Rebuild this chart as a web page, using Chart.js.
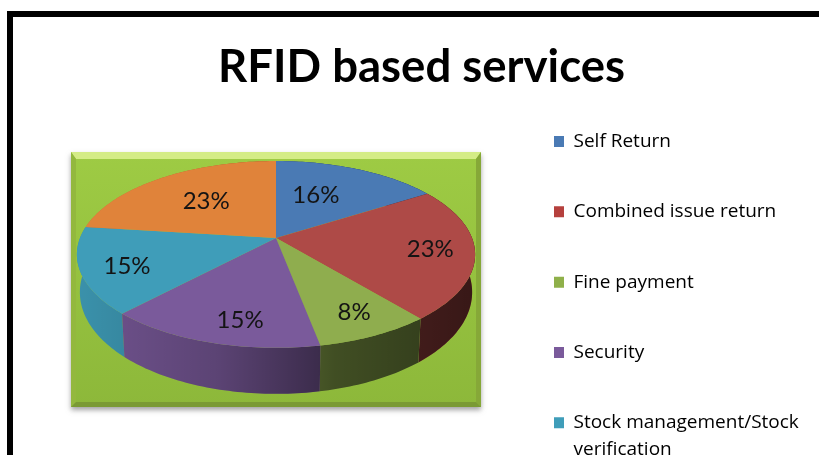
<!DOCTYPE html>
<html>
<head>
<meta charset="utf-8">
<title>RFID based services</title>
<script src="https://cdn.jsdelivr.net/npm/chart.js@4"></script>
<style>
    html, body { margin: 0; padding: 0; background: #fff; width: 819px; height: 455px; overflow: hidden; }
    canvas { display: block; }
</style>
</head>
<body>
<canvas id="myChart" width="819" height="500"></canvas>
<script>
const categories = ["Self Return", "Combined issue return", "Fine payment", "Security", "Stock management/Stock verification", "Other"];
const legendLines = [["Self Return", ""], ["Combined issue return", ""], ["Fine payment", ""], ["Security", ""], ["Stock management/Stock", "verification"]];
const shares = [16, 23, 8, 15, 15, 23];
const sliceColors = ["#4a7ab4", "#ae4a47", "#8fad4e", "#7a5a9b", "#3f9db9", "#e0833a"];
const legendColors = ["#4a7ab4", "#b5403d", "#8fb04a", "#7a5a9b", "#3f9db9", "#e0833a"];

// radius fraction and angle nudge (radians) for each percentage label
const labelRadius = [0.56, 0.78, 0.80, 0.80, 0.78, 0.58];
const labelNudge = [-0.095, 0.0, -0.01, -0.084, -0.05, 0.0];

const panel = { left: 71, top: 152, right: 481, bottom: 407 };
const pie = { cx: 276, cy: 238, rx: 196, ry: 90.5, tilt: 0.176 };

// screen position of a point on the unit circle of the tilted pie
const project = (x, y) => {
    const d = 1 - pie.tilt * y;
    return { x: pie.cx + pie.rx * x / d, y: pie.cy + pie.ry * y / d };
};

// same point on the lower rim, slightly narrower and deeper towards the viewer
const projectRim = (x, y) => {
    const p = project(x, y);
    return { x: pie.cx + (p.x - pie.cx) * 0.985, y: p.y + 36 + 10 * y };
};

const arcPoints = (start, end) => {
    const pts = [];
    const steps = Math.max(2, Math.ceil((end - start) / 0.02));
    for (let i = 0; i <= steps; i++) {
        const a = start + (end - start) * i / steps;
        pts.push([Math.cos(a), Math.sin(a)]);
    }
    return pts;
};

const drawPanel = (ctx) => {
    const { left, top, right, bottom } = panel;
    const bevel = 5;
    ctx.save();
    ctx.shadowColor = "rgba(70,70,70,0.5)";
    ctx.shadowBlur = 5;
    ctx.shadowOffsetY = 3;
    const grad = ctx.createLinearGradient(0, top, 0, bottom);
    grad.addColorStop(0, "#9ecb44");
    grad.addColorStop(1, "#8db83a");
    ctx.fillStyle = grad;
    ctx.fillRect(left, top, right - left, bottom - top);
    ctx.restore();

    const band = (points, color) => {
        ctx.beginPath();
        points.forEach(([x, y], i) => i ? ctx.lineTo(x, y) : ctx.moveTo(x, y));
        ctx.closePath();
        ctx.fillStyle = color;
        ctx.fill();
    };
    band([[left, top], [right, top], [right - bevel, top + 7], [left + bevel, top + 7]], "#d4ec86");
    band([[left, top], [left + bevel, top + 7], [left + bevel, bottom - bevel], [left, bottom]], "#93b83e");
    band([[right, top], [right - bevel, top + 7], [right - bevel, bottom - bevel], [right, bottom]], "#86a838");
    band([[left, bottom], [left + bevel, bottom - bevel], [right - bevel, bottom - bevel], [right, bottom]], "#7a9a34");
};

const tiltedPie = {
    id: "tiltedPie",
    beforeDraw(chart) {
        // black frame running along the top and left of the slide
        const ctx = chart.ctx;
        ctx.save();
        ctx.fillStyle = "#000";
        ctx.fillRect(7, 11, chart.width - 7, 6);
        ctx.fillRect(7, 11, 6, chart.height - 11);
        ctx.restore();
    },
    afterLayout(chart) {
        const legend = chart.legend;
        const w = legend.right - legend.left;
        legend.left = 538;
        legend.right = legend.left + w;
        legend.top = 116;
    },
    beforeDatasetsDraw(chart) {
        const ctx = chart.ctx;
        const arcs = chart.getDatasetMeta(0).data;
        drawPanel(ctx);

        // side wall first, back slices before front ones
        const order = arcs.map((arc, i) => i)
            .sort((a, b) => Math.sin((arcs[a].startAngle + arcs[a].endAngle) / 2) - Math.sin((arcs[b].startAngle + arcs[b].endAngle) / 2));
        const shade = ctx.createLinearGradient(pie.cx - pie.rx, 0, pie.cx + pie.rx, 0);
        shade.addColorStop(0, "rgba(0,0,0,0.08)");
        shade.addColorStop(0.35, "rgba(0,0,0,0.25)");
        shade.addColorStop(0.65, "rgba(0,0,0,0.55)");
        shade.addColorStop(1, "rgba(0,0,0,0.68)");
        order.forEach((i) => {
            const pts = arcPoints(arcs[i].startAngle, arcs[i].endAngle);
            ctx.beginPath();
            pts.forEach(([x, y], k) => {
                const p = project(x, y);
                k ? ctx.lineTo(p.x, p.y) : ctx.moveTo(p.x, p.y);
            });
            pts.slice().reverse().forEach(([x, y]) => {
                const p = projectRim(x, y);
                ctx.lineTo(p.x, p.y);
            });
            ctx.closePath();
            ctx.fillStyle = sliceColors[i];
            ctx.fill();
            ctx.fillStyle = shade;
            ctx.fill();
        });

        // top face of every slice
        arcs.forEach((arc, i) => {
            const c = project(0, 0);
            ctx.beginPath();
            ctx.moveTo(c.x, c.y);
            arcPoints(arc.startAngle, arc.endAngle).forEach(([x, y]) => {
                const p = project(x, y);
                ctx.lineTo(p.x, p.y);
            });
            ctx.closePath();
            ctx.fillStyle = sliceColors[i];
            ctx.fill();
        });

        // percentage labels
        const total = shares.reduce((a, b) => a + b, 0);
        ctx.fillStyle = "#141414";
        ctx.font = "24px Lato";
        ctx.textAlign = "center";
        ctx.textBaseline = "middle";
        arcs.forEach((arc, i) => {
            const mid = (arc.startAngle + arc.endAngle) / 2 + labelNudge[i];
            const p = project(labelRadius[i] * Math.cos(mid), labelRadius[i] * Math.sin(mid));
            ctx.fillText(Math.round(shares[i] / total * 100) + "%", p.x, p.y);
        });
        return false;
    }
};

new Chart(document.getElementById("myChart"), {
    type: "pie",
    data: {
        labels: categories,
        datasets: [{ data: shares, backgroundColor: sliceColors, borderWidth: 0 }]
    },
    plugins: [tiltedPie],
    options: {
        responsive: false,
        animation: false,
        layout: { padding: { left: 24 } },
        plugins: {
            tooltip: { enabled: false },
            title: {
                display: true,
                text: "RFID based services",
                color: "#000",
                font: { family: "Lato", size: 45.5, weight: "bold", lineHeight: 1.2 },
                padding: { top: 40, bottom: 4 }
            },
            legend: {
                position: "right",
                align: "start",
                labels: {
                    color: "#2a2a2a",
                    font: { family: "Open Sans", size: 19, lineHeight: 1.43 },
                    boxWidth: 10,
                    boxHeight: 11,
                    padding: 16,
                    generateLabels: () => legendLines.map((lines, i) => ({
                        text: lines,
                        fillStyle: legendColors[i],
                        strokeStyle: legendColors[i],
                        lineWidth: 0,
                        index: i
                    }))
                }
            }
        }
    }
});
</script>
</body>
</html>
